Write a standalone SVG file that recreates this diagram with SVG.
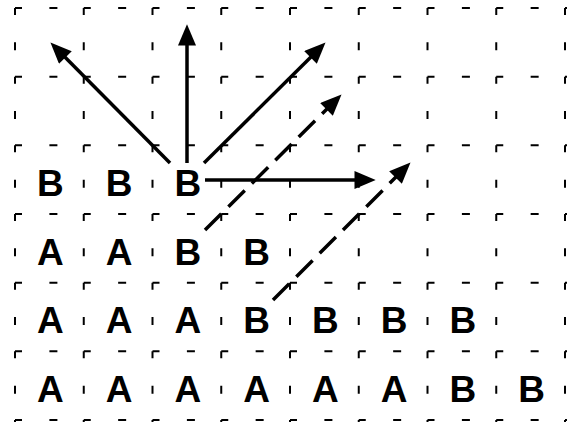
<svg xmlns="http://www.w3.org/2000/svg" width="567" height="422" viewBox="0 0 567 422">
<style>
.h{stroke:#000;stroke-width:2;stroke-dasharray:7 27.4 8 26.35;fill:none}
.v{stroke:#000;stroke-width:2;stroke-dasharray:7 27.33 8 26.34;fill:none}
.t{font-family:"Liberation Sans",Arial,sans-serif;font-weight:bold;font-size:37px;text-anchor:middle;fill:#000}
.a{stroke:#000;stroke-width:3.5;fill:none}
.d{stroke:#000;stroke-width:3.5;fill:none;stroke-dasharray:23 10}
</style>
<defs>
<marker id="ah" markerUnits="userSpaceOnUse" markerWidth="22" markerHeight="18" refX="8" refY="8.5" orient="auto" viewBox="0 0 20 17">
<path d="M0,0 L20,8.5 L0,17 z" fill="#000"/>
</marker>
</defs>
<rect width="567" height="422" fill="#fff"/>
<g id="grid">
<line class="h" x1="15" y1="8" x2="567" y2="8"/>
<line class="h" x1="15" y1="76.67" x2="567" y2="76.67"/>
<line class="h" x1="15" y1="145.33" x2="567" y2="145.33"/>
<line class="h" x1="15" y1="214" x2="567" y2="214"/>
<line class="h" x1="15" y1="282.67" x2="567" y2="282.67"/>
<line class="h" x1="15" y1="351.33" x2="567" y2="351.33"/>
<line class="h" x1="15" y1="420" x2="567" y2="420"/>
<line class="v" x1="15" y1="8" x2="15" y2="422"/>
<line class="v" x1="83.75" y1="8" x2="83.75" y2="422"/>
<line class="v" x1="152.5" y1="8" x2="152.5" y2="422"/>
<line class="v" x1="221.25" y1="8" x2="221.25" y2="422"/>
<line class="v" x1="290" y1="8" x2="290" y2="422"/>
<line class="v" x1="358.75" y1="8" x2="358.75" y2="422"/>
<line class="v" x1="427.5" y1="8" x2="427.5" y2="422"/>
<line class="v" x1="496.25" y1="8" x2="496.25" y2="422"/>
<line class="v" x1="565" y1="8" x2="565" y2="422"/>
</g>
<g id="row1">
<text class="t" x="50.4" y="196">B</text>
<text class="t" x="119.1" y="196">B</text>
<text class="t" x="187.9" y="196">B</text>
</g>
<g id="row2">
<text class="t" x="50.4" y="264.7">A</text>
<text class="t" x="119.1" y="264.7">A</text>
<text class="t" x="187.9" y="264.7">B</text>
<text class="t" x="256.6" y="264.7">B</text>
</g>
<g id="row3">
<text class="t" x="50.4" y="333.3">A</text>
<text class="t" x="119.1" y="333.3">A</text>
<text class="t" x="187.9" y="333.3">A</text>
<text class="t" x="256.6" y="333.3">B</text>
<text class="t" x="325.4" y="333.3">B</text>
<text class="t" x="394.1" y="333.3">B</text>
<text class="t" x="462.9" y="333.3">B</text>
</g>
<g id="row4">
<text class="t" x="50.4" y="402">A</text>
<text class="t" x="119.1" y="402">A</text>
<text class="t" x="187.9" y="402">A</text>
<text class="t" x="256.6" y="402">A</text>
<text class="t" x="325.4" y="402">A</text>
<text class="t" x="394.1" y="402">A</text>
<text class="t" x="462.9" y="402">B</text>
<text class="t" x="531.6" y="402">B</text>
</g>
<g id="connectors">
<line class="a" x1="170" y1="163" x2="59.4" y2="51.5" marker-end="url(#ah)"/>
<line class="a" x1="187" y1="163" x2="187" y2="37" marker-end="url(#ah)"/>
<line class="a" x1="204" y1="163" x2="316.5" y2="51.4" marker-end="url(#ah)"/>
<line class="a" x1="205" y1="180" x2="363" y2="180" marker-end="url(#ah)"/>
<line class="d" x1="205" y1="230" x2="332.5" y2="103.5" marker-end="url(#ah)"/>
<line class="d" x1="273" y1="300" x2="401.5" y2="171.5" marker-end="url(#ah)"/>
</g>
</svg>
